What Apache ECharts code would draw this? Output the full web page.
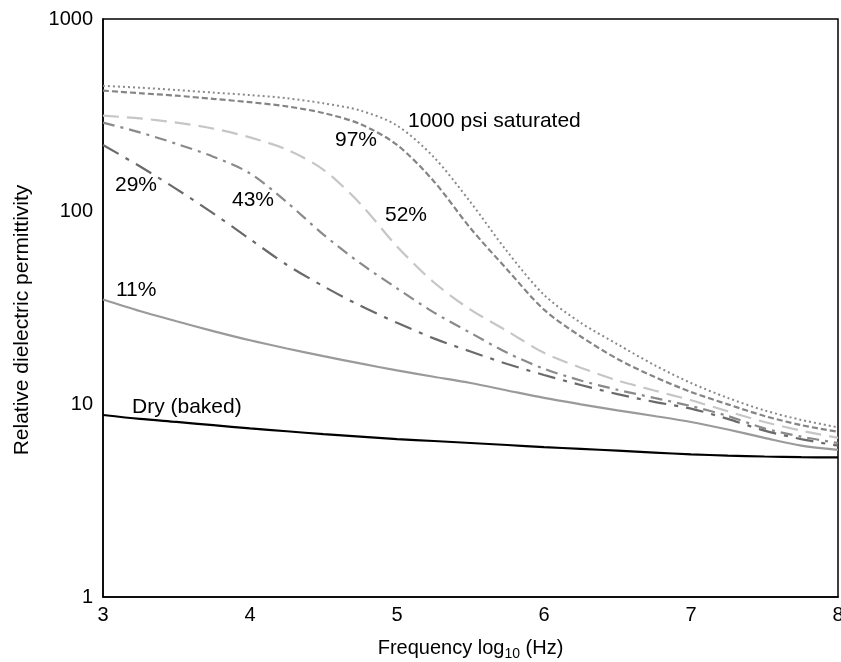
<!DOCTYPE html>
<html>
<head>
<meta charset="utf-8">
<script src="https://cdn.jsdelivr.net/npm/echarts@6/dist/echarts.min.js"></script>
<style>html,body{margin:0;padding:0;background:#fff}#c{width:841px;height:662px}</style>
</head>
<body>
<div id="c"></div>
<script>
var freqLog = [3, 3.25, 3.5, 3.75, 4, 4.25, 4.5, 4.75, 5, 5.25, 5.5, 5.75, 6, 6.25, 6.5, 6.75, 7, 7.25, 7.5, 7.75, 8];
var sat1000 = [450, 440, 428, 415, 403, 388, 365, 335, 280, 192, 112, 62, 37, 26.5, 20.5, 16, 12.9, 10.8, 9.3, 8.3, 7.6];
var rh97 = [425, 412, 400, 385, 370, 352, 325, 285, 222, 144, 82, 50, 31, 22.5, 17.2, 13.9, 11.6, 10.0, 8.7, 7.8, 7.2];
var rh52 = [315, 305, 290, 270, 243, 210, 165, 110, 66, 43, 31, 24, 18.5, 15.5, 13.3, 11.8, 10.5, 9.2, 8.1, 7.3, 6.7];
var rh43 = [290, 258, 225, 193, 158, 112, 76, 54, 40, 30, 23.5, 18.5, 15.3, 13.3, 11.9, 10.8, 9.8, 8.7, 7.5, 6.8, 6.3];
var rh29 = [222, 172, 131, 98, 72, 53, 41, 32.5, 26.5, 22, 18.8, 16.2, 14.2, 12.6, 11.3, 10.3, 9.5, 8.4, 7.3, 6.6, 6.1];
var rh11 = [35, 30.5, 27, 24, 21.5, 19.5, 17.8, 16.3, 15, 13.9, 12.9, 11.8, 10.8, 10.0, 9.3, 8.7, 8.1, 7.4, 6.7, 6.1, 5.8];
var dry = [8.8, 8.4, 8.1, 7.8, 7.5, 7.25, 7.0, 6.8, 6.6, 6.45, 6.3, 6.15, 6.0, 5.87, 5.75, 5.62, 5.5, 5.42, 5.36, 5.32, 5.3];
var yTicks = [1, 10, 100, 1000];
var xTicks = [3, 4, 5, 6, 7, 8];

function pairs(vals) { return freqLog.map(function (x, i) { return [x, vals[i]]; }); }

var FONT = 'Liberation Sans, Arial, Helvetica, sans-serif';
var FS_TICK = 20;
var FS_NOTE = 21;
var FS_NAME = 20;

var seriesDefs = [
  { name: '1000 psi saturated', data: sat1000, color: '#8a8a8a', type: [2, 3], width: 2 },
  { name: '97%', data: rh97, color: '#858585', type: [6, 3], width: 2.2 },
  { name: '52%', data: rh52, color: '#c6c6c6', type: [16, 8], width: 2.2 },
  { name: '43%', data: rh43, color: '#8a8a8a', type: [12, 6, 3, 6], width: 2.2 },
  { name: '29%', data: rh29, color: '#6a6a6a', type: [18, 8, 4, 8], width: 2.2 },
  { name: '11%', data: rh11, color: '#9a9a9a', type: 'solid', width: 2.2 },
  { name: 'Dry (baked)', data: dry, color: '#000000', type: 'solid', width: 2.2 }
];

var notes = [
  { text: '1000 psi saturated', x: 408, y: 121 },
  { text: '97%', x: 335, y: 140 },
  { text: '52%', x: 385, y: 215 },
  { text: '43%', x: 232, y: 200 },
  { text: '29%', x: 115, y: 185 },
  { text: '11%', x: 116, y: 290 },
  { text: 'Dry (baked)', x: 132, y: 407 }
];

var chart = echarts.init(document.getElementById('c'), null, { renderer: 'canvas' });
chart.setOption({
  animation: false,
  backgroundColor: '#fff',
  grid: { left: 103, top: 19, right: 3, bottom: 65, show: true, borderColor: '#000', borderWidth: 1.5,
    containLabel: false, outerBoundsMode: 'none' },
  xAxis: {
    type: 'value', min: 3, max: 8, interval: 1,
    name: 'Frequency log{sub|10} (Hz)', nameLocation: 'middle', nameGap: 38,
    nameTextStyle: { color: '#000', fontSize: FS_NAME, fontFamily: FONT,
      rich: { sub: { fontSize: 14, fontFamily: FONT, color: '#000', padding: [12, 0, 0, 0] } } },
    axisLine: { show: true, lineStyle: { color: '#000', width: 1.5 } },
    axisTick: { show: false },
    splitLine: { show: false },
    axisLabel: { color: '#000', fontSize: FS_TICK, fontFamily: FONT, margin: 8,
      formatter: function (v) { return xTicks.indexOf(v) >= 0 ? String(v) : ''; } }
  },
  yAxis: {
    type: 'log', logBase: 10, min: 1, max: 1000,
    name: 'Relative dielectric permittivity', nameLocation: 'middle', nameGap: 70, nameRotate: 90,
    nameTextStyle: { color: '#000', fontSize: 21, fontFamily: FONT, padding: [0, 24, 0, 0] },
    axisLine: { show: true, lineStyle: { color: '#000', width: 1.5 } },
    axisTick: { show: false },
    splitLine: { show: false },
    minorTick: { show: false },
    axisLabel: { color: '#000', fontSize: FS_TICK, fontFamily: FONT, margin: 10,
      formatter: function (v) { return yTicks.indexOf(Math.round(v)) >= 0 ? String(Math.round(v)) : ''; } }
  },
  series: seriesDefs.map(function (s) {
    return {
      name: s.name, type: 'line', data: pairs(s.data), smooth: 0.3,
      showSymbol: false, symbol: 'none',
      lineStyle: { color: s.color, width: s.width, type: s.type }, z: 2
    };
  }),
  graphic: notes.map(function (n) {
    return { type: 'text', x: n.x, y: n.y,
      style: { text: n.text, fill: '#000', font: FS_NOTE + 'px ' + FONT, align: 'left', verticalAlign: 'middle' } };
  })
});
</script>
</body>
</html>
